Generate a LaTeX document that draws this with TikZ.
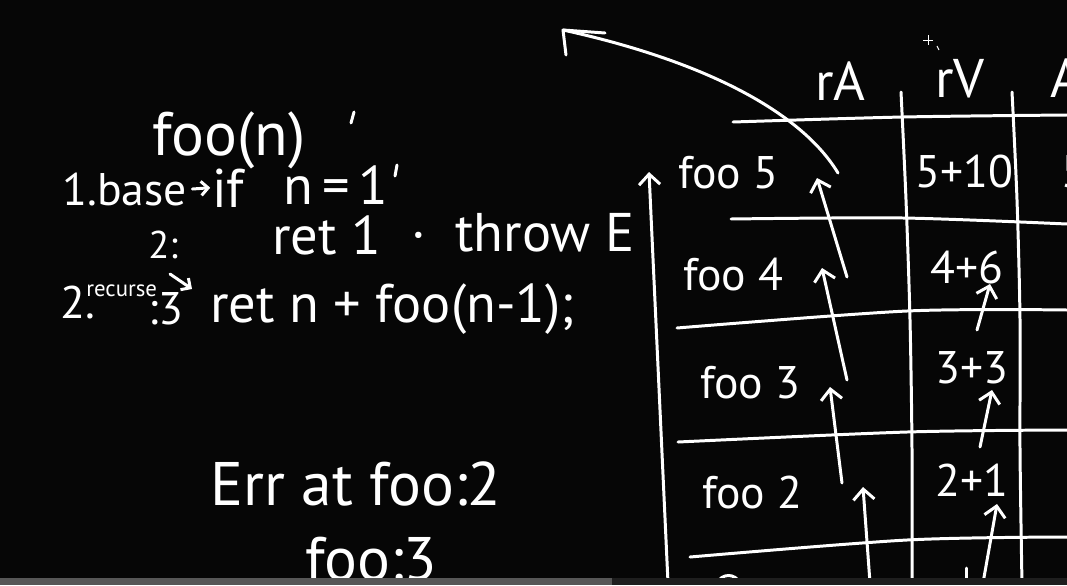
\documentclass[tikz,border=0pt]{standalone}
\usepackage{fontspec}
\setmainfont{PT Sans}
\usepackage{xcolor}
\usetikzlibrary{arrows.meta}
\definecolor{board}{HTML}{060606}
\definecolor{barlit}{HTML}{565656}
\definecolor{bardim}{HTML}{1E1E1E}

\begin{document}
\begin{tikzpicture}[x=0.02cm, y=-0.02cm,
            chalk/.style={draw=white, line width=1.7pt, line cap=round, line join=round},
            back/.style={chalk, -{Straight Barb[length=6pt, width=12pt]}},
            hand/.style={text=white, inner sep=0pt, anchor=base west},
            tinyf/.style={font=\fontsize{13}{14}\selectfont},
            smallf/.style={font=\fontsize{22}{24}\selectfont},
            midf/.style={font=\fontsize{26}{28}\selectfont},
            bigf/.style={font=\fontsize{31}{33}\selectfont},
            hugef/.style={font=\fontsize{35}{37}\selectfont}]
            \useasboundingbox (0,0) rectangle (1067,585);
            \clip (0,0) rectangle (1067,585);
            \fill[board] (0,0) rectangle (1067,585);

            \node[hand, hugef] (foon) at (152,155) {foo(n)};
            \draw[chalk] (354,112) -- (351,123);
            \node[hand, midf] (base) at (62,205) {1.base};
            \node[hand, bigf] (iff) at (212,207) {if};
            \draw[chalk, -{Straight Barb[length=4pt, width=8pt]}] ([xshift=3pt]base.east) -- ([xshift=-1pt]iff.west);
            \node[hand, bigf] (neq) at (283,204) {n\,=\,1};
            \draw[chalk] (397,165) -- (395,176);
            \node[hand, smallf] (two) at (148,258) {2:};
            \node[hand, bigf] (ret1) at (272,254) {ret 1};
            \node[hand, bigf] (dot) at (411,251) {·};
            \node[hand, bigf] (throw) at (455,251) {throw E};
            \node[hand, midf] (two2) at (60,318) {2.};
            \node[hand, tinyf] (rec) at (86,296) {recurse};
            \node[hand, midf] (lab3) at (148,324) {:3};
            \coordinate (recA) at (170,274);
            \coordinate (recB) at (192,289);
            \draw[chalk, -{Straight Barb[length=4pt, width=8pt]}] (recA) -- (recB);
            \node[hand, bigf] (retn) at (210,322) {ret n + foo(n-1);};
            \node[hand, hugef] (err) at (210,505) {Err at foo:2};
            \node[hand, hugef] (foo3) at (305,580) {foo:3};

            \node[hand, bigf] (ra) at (815,100) {rA};
            \node[hand, bigf] (rv) at (935,97) {rV};
            \node[hand, bigf] (ca) at (1050,97) {A};
            \draw[white, line width=0.4pt] (923,40) -- (933,40) (928,35) -- (928,45);
            \draw[white, line width=0.6pt] (937,46) -- (939,50);

            \draw[chalk] plot[smooth] coordinates {(733,122) (903,117) (1067,115)};
            \draw[chalk] plot[smooth] coordinates {(731,219) (903,218) (1067,224)};
            \draw[chalk] plot[smooth] coordinates {(677,328) (907,311) (1067,310)};
            \draw[chalk] plot[smooth] coordinates {(678,442) (907,432) (1067,430)};
            \draw[chalk] plot[smooth] coordinates {(690,557) (907,540) (1067,537)};
            \draw[chalk] plot[smooth] coordinates {(901,92) (906,200) (910,320) (912,450) (912,585)};
            \draw[chalk] plot[smooth] coordinates {(1012,92) (1017,200) (1020,320) (1020,450) (1022,585)};

            \node[hand, midf] (foo5) at (678,188) {foo 5};
            \node[hand, midf] (foo4) at (683,290) {foo 4};
            \node[hand, midf] (foo3r) at (700,398) {foo 3};
            \node[hand, midf] (foo2) at (702,508) {foo 2};
            \node[hand, midf] (v5) at (915,187) {5+10};
            \node[hand, midf] (v4) at (930,283) {4+6};
            \node[hand, midf] (v3) at (935,383) {3+3};
            \node[hand, midf] (v2) at (935,496) {2+1};
            \node[hand, midf] (w5) at (1061,187) {5};

            \coordinate (stk0) at (668,583);
            \coordinate (stk1) at (649,172);
            \draw[back] (stk0) -- (stk1);
            \coordinate (h5) at (817,178);
            \coordinate (t4) at (847,277);
            \coordinate (h4) at (822,268);
            \coordinate (t3) at (847,380);
            \coordinate (h3) at (830,387);
            \coordinate (t2) at (842,483);
            \coordinate (h2) at (863,487);
            \coordinate (t1) at (870,583);
            \draw[back] (t4) -- (h5);
            \draw[back] (t3) -- (h4);
            \draw[back] (t2) -- (h3);
            \draw[back] (t1) -- (h2);
            \coordinate (u4) at (977,330);
            \coordinate (g4) at (990,284);
            \coordinate (u3) at (980,447);
            \coordinate (g3) at (992,390);
            \coordinate (u2) at (983,583);
            \coordinate (g2) at (997,504);
            \draw[back] (u4) -- (g4);
            \draw[back] (u3) -- (g3);
            \draw[back] (u2) -- (g2);
            \coordinate (top5) at (838,173);
            \coordinate (caller) at (563,30);
            \draw[chalk] (top5) .. controls (800,110) and (700,60) .. (caller);
            \draw[chalk] (caller) -- ++(42,3) (caller) -- ++(3,25);
            \draw[chalk] (966,568) -- (966,583);
            \draw[chalk] (717,583) .. controls (722,573) and (735,573) .. (740,583);

            \fill[barlit] (0,578) rectangle (612,585);
            \fill[bardim] (612,578) rectangle (1067,585);
         \end{tikzpicture}
\end{document}
